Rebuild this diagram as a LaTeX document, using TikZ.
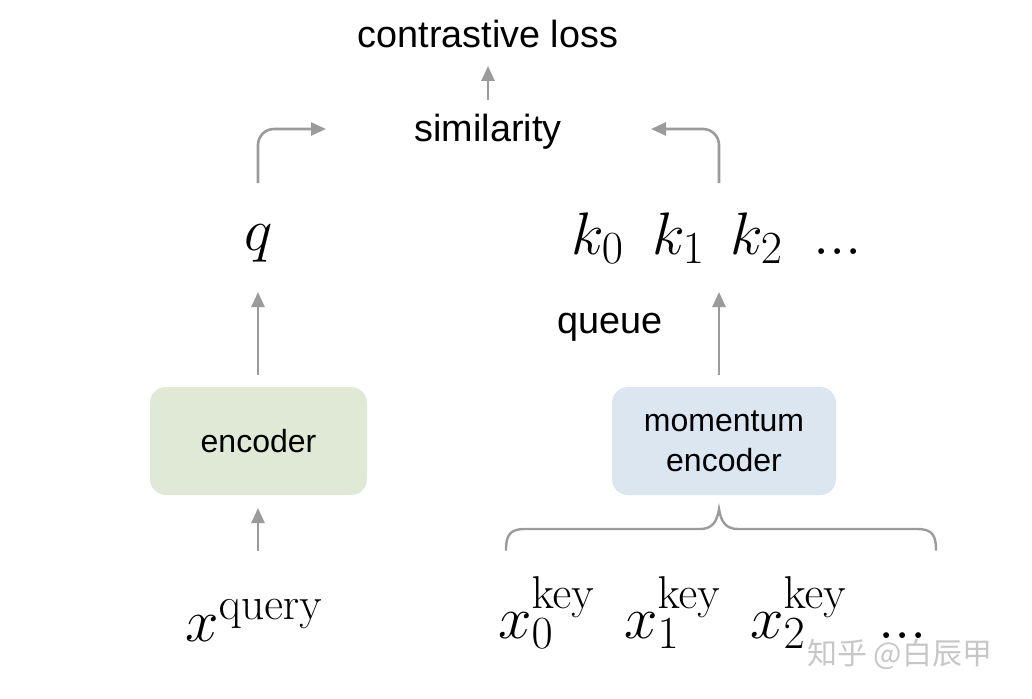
\RequirePackage{fix-cm}
\documentclass[tikz,border=0pt]{standalone}
\usepackage[no-math]{fontspec}
\setmainfont{Liberation Sans}
\newfontfamily\cjk{Noto Sans CJK SC}
\usetikzlibrary{arrows.meta}
\DeclareMathSizes{60}{60}{46}{36}
\definecolor{arrgray}{HTML}{9B9B9B}
\definecolor{encgreen}{HTML}{E0E9D5}
\definecolor{encblue}{HTML}{DCE6F1}
\begin{document}
\begin{tikzpicture}[x=1pt,y=-1pt,
  arr/.style={draw=arrgray, line width=2.6pt, -{Triangle[length=15pt,width=13pt]}},
  lbl/.style={inner sep=0pt, anchor=base, font=\fontsize{37.8}{45}\selectfont},
  mth/.style={inner sep=0pt, anchor=base west, font=\fontsize{60}{72}\selectfont},
  encbox/.style={rounded corners=16pt, inner sep=0pt, minimum width=217pt, minimum height=108pt, align=center, font=\fontsize{32}{40}\selectfont}]
\useasboundingbox (0,0) rectangle (1032,698);

% top labels
\node[lbl] (loss) at (488,48) {contrastive loss};
\node[lbl] (sim) at (488,141) {similarity};
\coordinate (simbot) at (488,100);
\coordinate (losstip) at (488,66);
\draw[arr] (simbot) -- (losstip);

% left branch
\node[mth] (q) at (244,250) {$q$};
\coordinate (qtop) at (258,183);
\coordinate (simL) at (326,129);
\draw[arr, rounded corners=16pt] (qtop) |- (simL);

\node[encbox, fill=encgreen] (enc) at (258.5,441) {encoder};
\coordinate (enctop) at (258,375);
\coordinate (qbot) at (258,292);
\draw[arr] (enctop) -- (qbot);

\node[mth] (xq) at (185,641) {$x^{\mathrm{query}}$};
\coordinate (xqtop) at (258,551);
\coordinate (enctip) at (258,508);
\draw[arr] (xqtop) -- (enctip);

% right branch
\node[mth] (k0) at (571,254) {$k_0$};
\node[mth] (k1) at (652,254) {$k_1$};
\node[mth] (k2) at (730,254) {$k_2$};
\node[mth] (kd) at (813,254) {$...$};
\coordinate (ktop) at (719,183);
\coordinate (simR) at (651,129);
\draw[arr, rounded corners=16pt] (ktop) |- (simR);

\node[lbl] (queue) at (610,333) {queue};
\node[encbox, fill=encblue, minimum width=224pt] (menc) at (724,441) {momentum\\encoder};
\coordinate (menctop) at (719,375);
\coordinate (kbot) at (719,292);
\draw[arr] (menctop) -- (kbot);

% brace
\coordinate (bL) at (506,550);
\coordinate (bR) at (936,550);
\coordinate (bT) at (719,509);
\draw[arrgray, line width=2.4pt, line cap=round]
  (bL) .. controls (506,535) and (510,529) .. (525,529) -- (700,529)
  .. controls (712,529) and (717,522) .. (bT)
  .. controls (721,522) and (726,529) .. (738,529) -- (917,529)
  .. controls (932,529) and (936,535) .. (bR);

\node[mth] (x0) at (498,638) {$x_0^{\mathrm{key}}$};
\node[mth] (x1) at (624,638) {$x_1^{\mathrm{key}}$};
\node[mth] (x2) at (750,638) {$x_2^{\mathrm{key}}$};
\node[mth] (xd) at (878,638) {$...$};

% watermark
\node[inner sep=0pt, anchor=west, text=black!22, font=\cjk\fontsize{30}{36}\selectfont] (wm) at (807,654) {知乎 @白辰甲};
\end{tikzpicture}
\end{document}
